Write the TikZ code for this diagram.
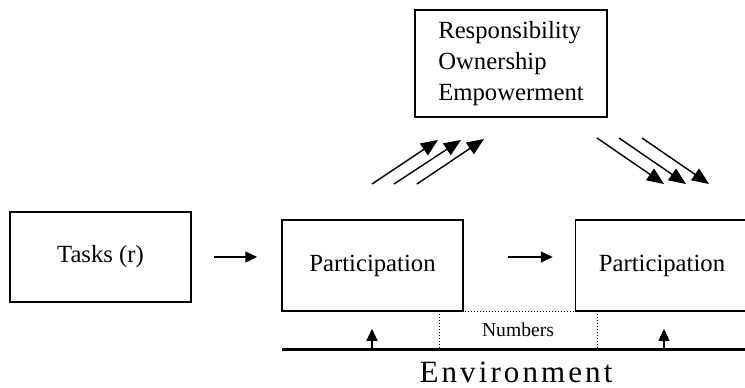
\documentclass[tikz,border=0pt]{standalone}
\usepackage{fontspec}
\setmainfont{Liberation Serif}
\newfontfamily\envfont[LetterSpace=10]{Liberation Serif}
\usetikzlibrary{positioning, arrows.meta}
\tikzset{
  box/.style={
    rectangle, draw, line width=1.5pt,
    inner sep=0pt, % size is set by minimum width and height
    font=\fontsize{24.7}{31}\selectfont
  },
  numbox/.style={ % dotted box below the two participation boxes
    rectangle, draw, dotted, line width=1pt,
    minimum width=158pt, minimum height=38pt,
    font=\fontsize{19.6}{23}\selectfont
  },
  conn/.style={ % plain arrows
    -{Triangle[length=12pt,width=11pt]},
    line width=1.3pt,
  },
  diag/.style={ % the slanted arrows to and from the top box
    -{Triangle[length=17pt,width=14pt]},
    line width=1.4pt,
  },
  ground/.style={line width=3pt},
}
\begin{document}
\begin{tikzpicture}[x=1pt,y=-1pt]
    \useasboundingbox (0,0) rectangle (745,388);
    % numbers and ground line
    \node[numbox] (numbers) at (518,330) {Numbers};
    \coordinate (gl) at (282,349);
    \coordinate (gr) at (752,349);
    \draw[ground] (gl) -- (gr);
    \node[font=\envfont\fontsize{31}{36}\selectfont, inner sep=0pt] (env) at (516,372) {Environment};
    % boxes
    \node[box, minimum width=181pt, minimum height=90pt] (tasks) at (100.5,257) {Tasks (r)};
    \node[box, minimum width=181pt, minimum height=91pt] (part1) at (372.5,265.5) {Participation};
    \node[box, minimum width=173pt, minimum height=91pt, right=111pt of part1] (part2) {Participation};
    \node[box, minimum width=192pt, minimum height=107pt, align=left] (resp) at (511,63.5)
        {Responsibility\\Ownership\\Empowerment};
    % horizontal arrows
    \draw[conn, shorten <=22pt, shorten >=24pt] (tasks.east) -- (tasks.east -| part1.west);
    \draw[conn, shorten <=44pt, shorten >=22pt] (tasks.east -| part1.east) -- (tasks.east -| part2.west);
    % arrows up from the environment
    \coordinate (up1) at (372,349);
    \coordinate (up2) at (664,349);
    \draw[conn, shorten >=17pt] (up1) -- (up1 |- part1.south);
    \draw[conn, shorten >=17pt] (up2) -- (up2 |- part2.south);
    % arrows up to the top box
    \coordinate (a1) at (372,184); \coordinate (b1) at (438,140);
    \coordinate (a2) at (394,184); \coordinate (b2) at (461,140);
    \coordinate (a3) at (417,184); \coordinate (b3) at (484,139);
    \draw[diag] (a1) -- (b1);
    \draw[diag] (a2) -- (b2);
    \draw[diag] (a3) -- (b3);
    % arrows down from the top box
    \coordinate (c1) at (597,138); \coordinate (d1) at (664,184);
    \coordinate (c2) at (619,138); \coordinate (d2) at (686,184);
    \coordinate (c3) at (642,138); \coordinate (d3) at (709,184);
    \draw[diag] (c1) -- (d1);
    \draw[diag] (c2) -- (d2);
    \draw[diag] (c3) -- (d3);
\end{tikzpicture}
\end{document}
